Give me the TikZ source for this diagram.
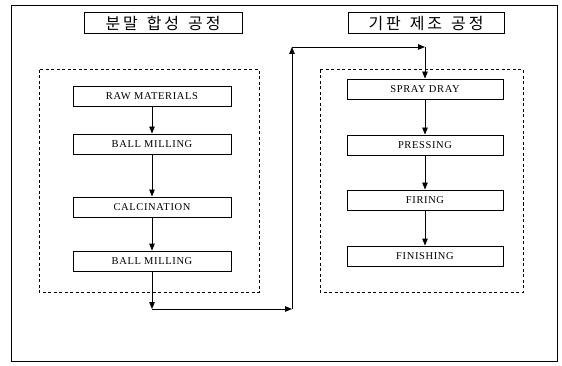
\documentclass[tikz,border=0pt]{standalone}
\usepackage{fontspec}
\setmainfont{Liberation Serif}
\newfontfamily\kr{Noto Sans CJK KR}
\usetikzlibrary{arrows.meta}
\newcommand{\wgap}{\hspace{9pt}}
\begin{document}
\begin{tikzpicture}[x=1pt,y=-1pt,
 proc/.style={draw, line width=0.9pt, minimum height=20pt, inner sep=0pt, font=\fontsize{10.5}{12}\selectfont\addfontfeature{LetterSpace=6}},
 ttl/.style={draw, line width=1pt, minimum height=21pt, inner sep=0pt, font=\kr\fontsize{16}{18}\selectfont\addfontfeature{LetterSpace=18}},
 grp/.style={draw, line width=1pt, dash pattern=on 3pt off 2.5pt},
 frame/.style={draw, line width=0.8pt},
 flow/.style={-{Triangle[length=7pt,width=5.5pt]}, line width=0.9pt}]
\useasboundingbox (0,0) rectangle (562,366);
\path[frame] (11,5) rectangle (557,361);
\path[grp] (39,70) rectangle (259,292);
\path[grp] (320,70) rectangle (523,292);
\node[ttl, minimum width=158pt] (t1) at (163,23.5) {분말\wgap 합성\wgap 공정};
\node[ttl, minimum width=156pt] (t2) at (426,23.5) {기판\wgap 제조\wgap 공정};
\node[proc, minimum width=158pt] (raw) at (152,96) {RAW MATERIALS};
\node[proc, minimum width=158pt] (bm1) at (152,144) {BALL MILLING};
\node[proc, minimum width=158pt] (cal) at (152,207) {CALCINATION};
\node[proc, minimum width=158pt] (bm2) at (152,261) {BALL MILLING};
\node[proc, minimum width=156pt] (spr) at (425,89) {SPRAY DRAY};
\node[proc, minimum width=156pt] (pre) at (425,145) {PRESSING};
\node[proc, minimum width=156pt] (fir) at (425,200) {FIRING};
\node[proc, minimum width=156pt] (fin) at (425,256) {FINISHING};
\coordinate (a1) at (152,309);
\coordinate (a2) at (292,309);
\coordinate (a3) at (292,47);
\coordinate (a4) at (425,47);
\draw[flow] (raw) -- (bm1);
\draw[flow] (bm1) -- (cal);
\draw[flow] (cal) -- (bm2);
\draw[flow] (bm2) -- (a1);
\draw[flow] (a1) -- (a2);
\draw[flow] (a2) -- (a3);
\draw[flow] (a3) -- (a4);
\draw[flow] (a4) -- (spr);
\draw[flow] (spr) -- (pre);
\draw[flow] (pre) -- (fir);
\draw[flow] (fir) -- (fin);
\end{tikzpicture}
\end{document}
